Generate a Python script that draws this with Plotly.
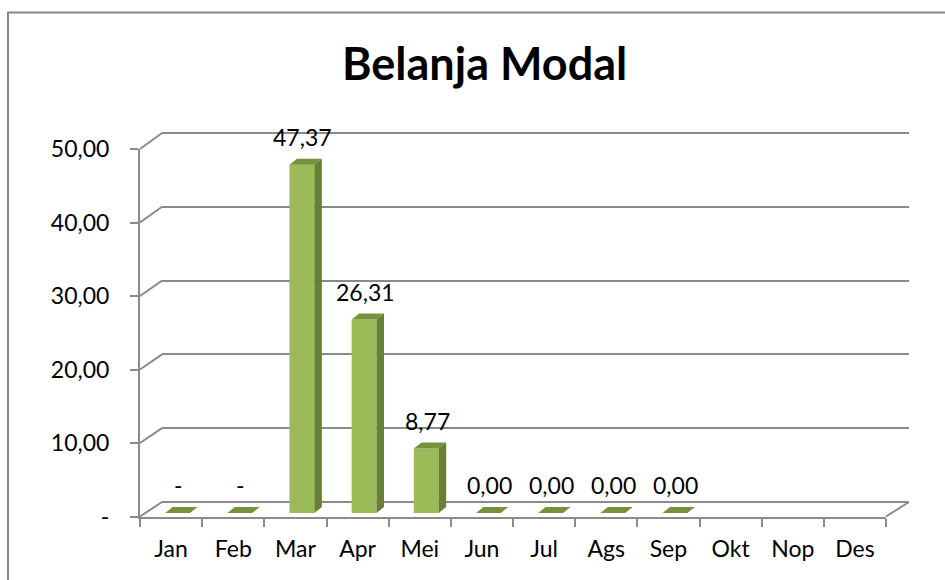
import plotly.graph_objects as go

# ---------------- data ----------------
months = ["Jan", "Feb", "Mar", "Apr", "Mei", "Jun", "Jul", "Ags", "Sep", "Okt", "Nop", "Des"]
values = [0, 0, 47.37, 26.31, 8.77, 0, 0, 0, 0, None, None, None]
value_labels = ["-", "-", "47,37", "26,31", "8,77", "0,00", "0,00", "0,00", "0,00", None, None, None]
y_tick_vals = [0, 10, 20, 30, 40, 50]
y_tick_text = ["-", "10,00", "20,00", "30,00", "40,00", "50,00"]
title_text = "Belanja Modal"

# ---------------- styling / geometry (pixels) ----------------
W, H = 945, 580
FONT = "Lato"
FS = 23
GRID = "#8a8a8a"
FRONT_C, SIDE_C, TOP_C = "#9BBB59", "#677F37", "#76923C"

FX0, FX1 = 140, 886          # front plane x extent
FY0, FY50 = 516.5, 149       # front plane: pixel of 0 and 50
BX0, BX1 = 162, 909          # back wall x extent
BY0, BY50 = 502, 133         # back wall: pixel of 0 and 50
BAR_OX, BAR_Y0 = 6.5, 513    # bar front plane offset
DEPTH_X, DEPTH_Y = 7.5, 6    # bar depth (pixels)
BAR_W = 0.4


def px_to_paper_x(p):
    return p / W


def px_to_paper_y(p):
    return (H - p) / H


def ydomain(rng, p0, p50):
    s = (p0 - p50) / 50.0
    bot = p0 - s * rng[0]
    top = p0 - s * rng[1]
    return [px_to_paper_y(bot), px_to_paper_y(top)]


fig = go.Figure()

# ---- back wall subplot (x, y) : gridlines only ----
fig.add_trace(go.Scatter(x=[0.5], y=[None], mode="markers", showlegend=False,
                         hoverinfo="skip", xaxis="x", yaxis="y"))

# ---- bars subplot (x2, y2) ----
n = len(months)
idx = list(range(n))
bar_scale = 7.35
bar_p50 = BAR_Y0 - 50 * bar_scale
bx0, bx1 = FX0 + BAR_OX, FX1 + BAR_OX
dx_u = DEPTH_X / ((bx1 - bx0) / n)
dy_u = DEPTH_Y / bar_scale
hw = BAR_W / 2

fig.add_trace(go.Bar(x=idx, y=values, width=BAR_W, marker=dict(color=FRONT_C, line=dict(width=0)),
                     showlegend=False, hoverinfo="skip", xaxis="x2", yaxis="y2"))

side_x, side_y, top_x, top_y = [], [], [], []
for i, v in zip(idx, values):
    if v is None:
        continue
    top_x += [i - hw, i + hw, i + hw + dx_u, i - hw + dx_u, i - hw, None]
    top_y += [v, v, v + dy_u, v + dy_u, v, None]
    if v > 0:
        side_x += [i + hw, i + hw + dx_u, i + hw + dx_u, i + hw, i + hw, None]
        side_y += [0, dy_u, v + dy_u, v, 0, None]

fig.add_trace(go.Scatter(x=side_x, y=side_y, mode="lines", fill="toself", fillcolor=SIDE_C,
                         line=dict(width=0, color=SIDE_C), showlegend=False, hoverinfo="skip",
                         xaxis="x2", yaxis="y2", cliponaxis=False))
fig.add_trace(go.Scatter(x=top_x, y=top_y, mode="lines", fill="toself", fillcolor=TOP_C,
                         line=dict(width=0, color=TOP_C), showlegend=False, hoverinfo="skip",
                         xaxis="x2", yaxis="y2", cliponaxis=False))

annotations = []
for i, v, lab in zip(idx, values, value_labels):
    if v is None or lab is None:
        continue
    annotations.append(dict(x=i, y=v, xref="x2", yref="y2", text=lab, showarrow=False,
                            xanchor="center", yanchor="bottom", xshift=1, yshift=12,
                            font=dict(family=FONT, size=FS, color="#000000")))

# ---- front subplot (x3, y3) : axes, ticks, labels ----
fig.add_trace(go.Scatter(x=months, y=[None] * n, mode="markers", showlegend=False,
                         hoverinfo="skip", xaxis="x3", yaxis="y3"))

# title
annotations.append(dict(x=px_to_paper_x(484), y=px_to_paper_y(92), xref="paper", yref="paper",
                        text=title_text, showarrow=False, xanchor="center", yanchor="bottom",
                        font=dict(family=FONT, size=45, color="#000000", weight="bold")))

# decorative 3D lines: side wall connectors and outer border
shapes = []
for v in y_tick_vals:
    fy = FY0 - (FY0 - FY50) * v / 50.0
    by = BY0 - (BY0 - BY50) * v / 50.0
    shapes.append(dict(type="line", xref="paper", yref="paper", layer="below",
                       x0=px_to_paper_x(FX0), y0=px_to_paper_y(fy),
                       x1=px_to_paper_x(BX0), y1=px_to_paper_y(by),
                       line=dict(color=GRID, width=2)))
shapes.append(dict(type="line", xref="paper", yref="paper", layer="below",
                   x0=px_to_paper_x(FX1), y0=px_to_paper_y(FY0),
                   x1=px_to_paper_x(BX1), y1=px_to_paper_y(BY0),
                   line=dict(color=GRID, width=2)))
shapes.append(dict(type="rect", xref="paper", yref="paper", layer="below",
                   x0=px_to_paper_x(8), y0=px_to_paper_y(H + 20),
                   x1=px_to_paper_x(W + 20), y1=px_to_paper_y(12.5),
                   line=dict(color="#868686", width=2)))

back_range = [-1, 51]
fig.update_layout(
    width=W, height=H, autosize=False,
    margin=dict(l=0, r=0, t=0, b=0, pad=0, autoexpand=False),
    paper_bgcolor="white", plot_bgcolor="rgba(0,0,0,0)",
    showlegend=False,
    annotations=annotations,
    shapes=shapes,
    xaxis=dict(domain=[px_to_paper_x(BX0), px_to_paper_x(BX1)], range=[0, 1], automargin=False,
               showgrid=False, zeroline=False, showline=False, showticklabels=False, ticks=""),
    yaxis=dict(domain=ydomain(back_range, BY0, BY50), range=back_range, automargin=False,
               tickvals=y_tick_vals, showgrid=True, gridcolor=GRID, gridwidth=2,
               zeroline=False, showline=False, showticklabels=False, ticks=""),
    xaxis2=dict(domain=[px_to_paper_x(bx0), px_to_paper_x(bx1)], range=[-0.5, n - 0.5],
                anchor="y2", showgrid=False, zeroline=False, showline=False, automargin=False,
                showticklabels=False, ticks=""),
    yaxis2=dict(domain=ydomain([0, 50], BAR_Y0, bar_p50), range=[0, 50], anchor="x2",
                automargin=False,
                showgrid=False, zeroline=False, showline=False, showticklabels=False, ticks=""),
    xaxis3=dict(domain=[px_to_paper_x(FX0), px_to_paper_x(FX1)], anchor="y3",
                type="category", categoryorder="array", categoryarray=months, automargin=False,
                range=[-0.5, n - 0.5], tickson="boundaries", ticks="outside", ticklen=8,
                tickwidth=2, tickcolor=GRID, showline=True, linecolor=GRID, linewidth=2,
                showgrid=False, zeroline=False, ticklabelstandoff=11,
                tickfont=dict(family=FONT, size=FS, color="#000000")),
    yaxis3=dict(domain=ydomain([0, 50], FY0, FY50), range=[0, 50], anchor="x3",
                automargin=False,
                tickvals=y_tick_vals, ticktext=y_tick_text, ticks="outside", ticklen=8,
                tickwidth=2, tickcolor=GRID, showline=True, linecolor=GRID, linewidth=2,
                showgrid=False, zeroline=False, ticklabelstandoff=16,
                tickfont=dict(family=FONT, size=FS, color="#000000")),
)

fig.write_html("out.html", config={"displayModeBar": False},
               post_script="document.body.style.margin='0';")
